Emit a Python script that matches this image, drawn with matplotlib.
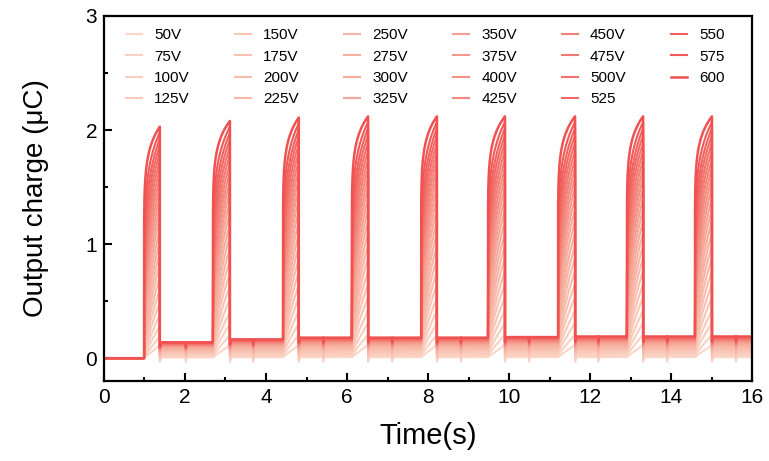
import matplotlib
matplotlib.use("Agg")
import matplotlib.pyplot as plt
import numpy as np
from matplotlib.colors import LinearSegmentedColormap
from matplotlib.ticker import MultipleLocator

# applied voltages and legend text (as printed on the figure)
voltages = [50, 75, 100, 125, 150, 175, 200, 225, 250, 275, 300, 325,
            350, 375, 400, 425, 450, 475, 500, 525, 550, 575, 600]
labels = ["50V", "75V", "100V", "125V", "150V", "175V", "200V", "225V",
          "250V", "275V", "300V", "325V", "350V", "375V", "400V", "425V",
          "450V", "475V", "500V", "525", "550", "575", "600"]

# pulse timing (s)
pulse_on = [0.99, 2.69, 4.42, 6.12, 7.83, 9.48, 11.21, 12.91, 14.59]
pulse_off = [1.38, 3.11, 4.81, 6.52, 8.22, 9.90, 11.63, 13.31, 15.01]
glitch_t = [2.02, 3.68, 5.41, 7.11, 8.81, 10.49, 12.20, 13.90, 15.60]
t_end = 16.0

# 600 V trace: peak at the end of each pulse and level after it (uC)
peak_top = [2.03, 2.08, 2.11, 2.12, 2.12, 2.12, 2.12, 2.12, 2.12]
base_top = [0.14, 0.165, 0.18, 0.18, 0.18, 0.185, 0.19, 0.19, 0.19]

# per-voltage scaling relative to the 600 V trace
peak_ratio = [0.055, 0.095, 0.14, 0.19, 0.244, 0.298, 0.352, 0.405, 0.457,
              0.508, 0.558, 0.606, 0.652, 0.696, 0.738, 0.778, 0.816,
              0.852, 0.886, 0.918, 0.948, 0.975, 1.0]
base_ratio = [0.05, 0.12, 0.20, 0.27, 0.34, 0.40, 0.46, 0.52, 0.57, 0.62,
              0.66, 0.70, 0.74, 0.78, 0.81, 0.84, 0.87, 0.90, 0.925, 0.95,
              0.97, 0.985, 1.0]
rise_shape = [0.95, 0.9, 0.85, 0.8, 0.75, 0.7, 0.66, 0.62, 0.58, 0.54, 0.5,
              0.46, 0.43, 0.4, 0.37, 0.34, 0.31, 0.28, 0.25, 0.22, 0.19,
              0.15, 0.1]
dip_depth = 0.04


def build_trace(k):
    ts, qs = [0.0], [0.0]
    base = 0.0
    s = np.linspace(0, 1, 80) ** 3
    for j in range(len(pulse_on)):
        on, off = pulse_on[j], pulse_off[j]
        prev_top = base_top[j - 1] if j else 0.0
        peak = base + peak_ratio[k] * (peak_top[j] - prev_top)
        ts += list(on + s * (off - on))
        qs += list(base + (peak - base) * s ** rise_shape[k])
        base = base_top[j] * base_ratio[k]
        ts += [off, off + 0.03]
        qs += [base - dip_depth, base]
        g = glitch_t[j]
        ts += [g, g + 0.004, g + 0.008]
        qs += [base, base - dip_depth, base]
    ts.append(t_end)
    qs.append(base)
    return np.array(ts), np.array(qs)


plt.rcParams["font.family"] = ["Liberation Sans", "DejaVu Sans"]

fig = plt.figure(figsize=(7.69, 4.61), dpi=100)
ax = fig.add_axes([0.1352, 0.1735, 0.8428, 0.7918])

cmap = LinearSegmentedColormap.from_list(
    "peach_red", ["#fbd6c6", "#f6a898", "#f05252"])
n = len(voltages)
for k in range(n):
    t, q = build_trace(k)
    ax.plot(t, q, color=cmap(k / (n - 1)), lw=1.5 if k < n - 1 else 1.8,
            label=labels[k])

ax.set_xlim(0, 16)
ax.set_ylim(-0.2, 3)
ax.set_xticks(range(0, 17, 2))
ax.set_yticks([0, 1, 2, 3])
ax.xaxis.set_minor_locator(MultipleLocator(1))
ax.yaxis.set_minor_locator(MultipleLocator(0.5))
ax.tick_params(which="both", direction="in", top=False, right=False,
               width=1.5, labelsize=15, pad=5)
ax.tick_params(which="major", length=6)
ax.tick_params(which="minor", length=3)
for sp in ax.spines.values():
    sp.set_linewidth(1.6)

ax.set_xlabel("Time(s)", fontsize=21, labelpad=11)
ax.set_ylabel("Output charge (μC)", fontsize=20, labelpad=26)

ax.legend(ncol=6, loc="upper left", bbox_to_anchor=(0.034, 0.966),
          frameon=False, fontsize=11, handlelength=1.05, handletextpad=0.8,
          columnspacing=2.95, labelspacing=0.48, borderpad=0,
          borderaxespad=0)

fig.savefig("out.png", dpi=100)
